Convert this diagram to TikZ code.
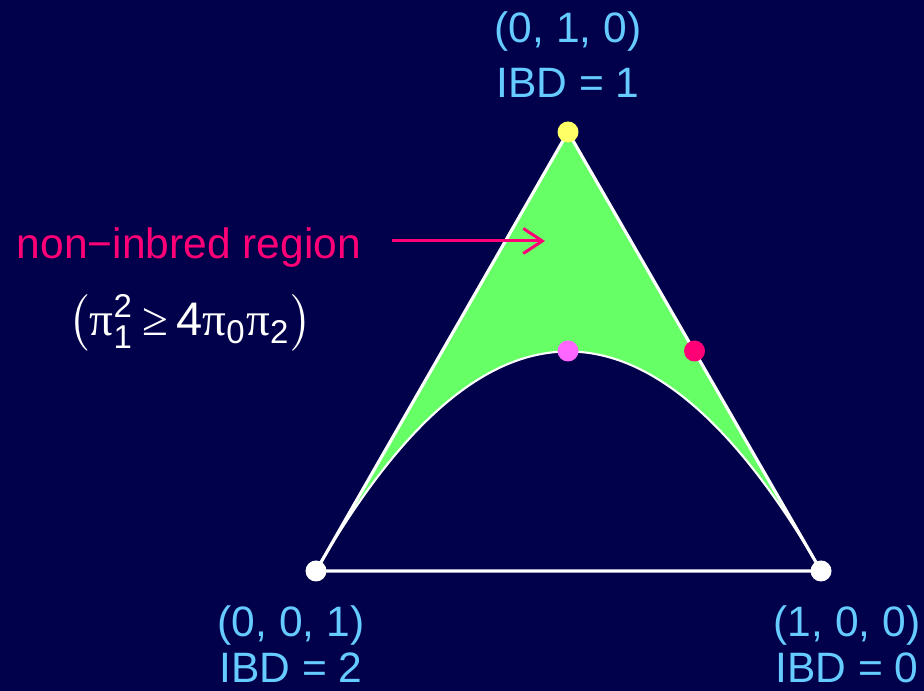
\documentclass[tikz,border=0pt]{standalone}
\usepackage{amsmath,amssymb}
\usepackage{fontspec}
\setmainfont{Liberation Sans}
\newfontfamily\greekfont{Liberation Serif}
\definecolor{IbdNavy}{HTML}{00004B}
\definecolor{IbdGreen}{HTML}{66FF66}
\definecolor{IbdBlue}{HTML}{66CCFF}
\definecolor{IbdPink}{HTML}{FF0077}
\definecolor{IbdViolet}{HTML}{FF66FF}
\definecolor{IbdYellow}{HTML}{FFFF66}
\usetikzlibrary{arrows.meta,positioning,calc}
\newcommand{\gpi}{\text{\greekfont π}}

\begin{document}
\begin{tikzpicture}[
      corner/.style={circle,fill=#1,inner sep=0pt,minimum size=2.1mm},
      coordlabel/.style={text=IbdBlue,anchor=base,inner sep=0pt,
                         font=\fontsize{12.1}{14}\selectfont},
      edge/.style={draw=white,line width=0.9pt},
      pointer/.style={-{Straight Barb[length=1.9mm,width=2.5mm]},
                      line width=0.85pt,draw=IbdPink}]
    \useasboundingbox (0,0) rectangle (9.24,6.91);
    \fill[IbdNavy] (0,0) rectangle (9.24,6.91);
    \coordinate (left) at (3.16,1.20);
    \coordinate (right) at (8.21,1.20);
    \coordinate (top) at (5.68,5.59);
    % quadratic curve pi1^2 = 4 pi0 pi2 as a cubic
    \coordinate (ctlA) at ($(left)!2/3!(top)$);
    \coordinate (ctlB) at ($(right)!2/3!(top)$);
    \fill[IbdGreen] (left) -- (top) -- (right)
      .. controls (ctlB) and (ctlA) .. (left);
    \draw[edge] (left) -- (top) -- (right) -- cycle;
    \draw[draw=white,line width=0.6pt] (left) .. controls (ctlA) and (ctlB) .. (right);
    \node[corner=white] (c001) at (left) {};
    \node[corner=white] (c100) at (right) {};
    \node[corner=IbdYellow] (c010) at (top) {};
    \node[corner=IbdViolet] (peak) at (5.68,3.40) {};
    \node[corner=IbdPink] (half) at (6.945,3.40) {};
    \node[coordlabel] (t1) at (5.68,6.48) {(0, 1, 0)};
    \node[coordlabel] (t2) at (5.68,5.93) {IBD = 1};
    \node[coordlabel] (l1) at (2.91,0.54) {(0, 0, 1)};
    \node[coordlabel] (l2) at (2.91,0.08) {IBD = 2};
    \node[coordlabel] (r1) at (8.47,0.54) {(1, 0, 0)};
    \node[coordlabel] (r2) at (8.47,0.08) {IBD = 0};
    \node[coordlabel,text=IbdPink] (region) at (1.89,4.32) {non−inbred region};
    \node[text=white,inner sep=0pt,font=\fontsize{13.4}{15}\selectfont]
      (rule) at (1.90,3.68)
      {$\bigl(\gpi^{\text{2}}_{\text{1}}\,\text{\greekfont ≥}\,\text{4}\gpi_{\text{0}}\gpi_{\text{2}}\bigr)$};
    \coordinate (regiontail) at (3.92,4.50);
    \coordinate (regionpt) at (5.45,4.50);
    \draw[pointer] (regiontail) -- (regionpt);
  \end{tikzpicture}
\end{document}
